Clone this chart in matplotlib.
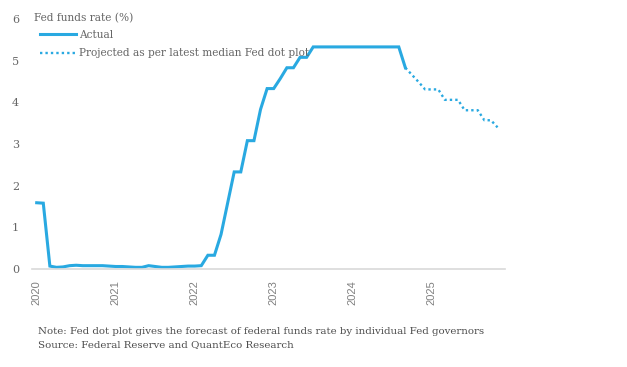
import numpy as np
import matplotlib.pyplot as plt

# Monthly month-end Fed funds rate, Jan 2020 .. Sep 2024
actual = [1.59, 1.58, 0.07, 0.04, 0.05, 0.08, 0.09, 0.08, 0.08, 0.08, 0.08, 0.07,
          0.06, 0.06, 0.05, 0.04, 0.04, 0.08, 0.06, 0.04, 0.04, 0.05, 0.06, 0.07,
          0.07, 0.08, 0.33, 0.33, 0.83, 1.58, 2.33, 2.33, 3.08, 3.08, 3.83, 4.33,
          4.33, 4.57, 4.83, 4.83, 5.08, 5.08, 5.33, 5.33, 5.33, 5.33, 5.33, 5.33,
          5.33, 5.33, 5.33, 5.33, 5.33, 5.33, 5.33, 5.33, 4.83]
# Projection, Sep 2024 .. Nov 2025
projected = [4.83, 4.66, 4.49, 4.31, 4.31, 4.31, 4.06, 4.06, 4.06, 3.81, 3.81, 3.81,
             3.57, 3.57, 3.40]
years = [2020, 2021, 2022, 2023, 2024, 2025]
yticks = [0, 1, 2, 3, 4, 5, 6]

note = "Note: Fed dot plot gives the forecast of federal funds rate by individual Fed governors"
source = "Source: Federal Reserve and QuantEco Research"

blue = '#29a9e1'
grey = '#666666'

x_act = 2020 + np.arange(len(actual)) / 12
x_proj = 2020 + (len(actual) - 1 + np.arange(len(projected))) / 12

W, H = 627, 367
fig = plt.figure(figsize=(W / 100, H / 100), dpi=100)
ax = fig.add_axes([31.7 / W, (H - 269) / H, (505 - 31.7) / W, (269 - 19) / H])

ax.plot(x_act, actual, color=blue, lw=2.2, solid_joinstyle='miter', label='Actual')
ax.plot(x_proj, projected, color=blue, lw=1.7, dashes=(1, 1.3), label='Projected as per latest median Fed dot plot')

ax.set_xlim(2020 + (31.7 - 36.7) / 79, 2020 + (505 - 36.7) / 79)
ax.set_ylim(0, 6)
ax.set_xticks(years)
ax.set_xticklabels([str(y) for y in years], rotation=90, fontsize=8, color='#808080',
                   family='Liberation Sans')
ax.set_yticks(yticks)
ax.set_yticklabels([str(v) for v in yticks], fontsize=8, color=grey, family='DejaVu Serif')
ax.tick_params(axis='both', length=0)
ax.tick_params(axis='x', pad=8)
ax.tick_params(axis='y', pad=9)
for s in ['top', 'right', 'left']:
    ax.spines[s].set_visible(False)
ax.spines['bottom'].set_color('#d9d9d9')
ax.spines['bottom'].set_linewidth(1.2)

fig.text(34 / W, 1 - 18 / H, 'Fed funds rate (%)', fontsize=7.6, color=grey,
         family='DejaVu Serif', va='center', ha='left')

leg = ax.legend(loc='upper left', bbox_to_anchor=(40 / W, 1 - 30 / H), bbox_transform=fig.transFigure,
                frameon=False, handlelength=3.4, handletextpad=0.3,
                labelspacing=0.8, borderpad=0, borderaxespad=0,
                prop={'family': 'DejaVu Serif', 'size': 7.6})
for t in leg.get_texts():
    t.set_color(grey)

fig.text(38 / W, 1 - 331 / H, note, fontsize=7.4, color='#4d4d4d', family='DejaVu Serif', va='center')
fig.text(38 / W, 1 - 345 / H, source, fontsize=7.4, color='#4d4d4d', family='DejaVu Serif', va='center')

fig.savefig('out.png', dpi=100)
